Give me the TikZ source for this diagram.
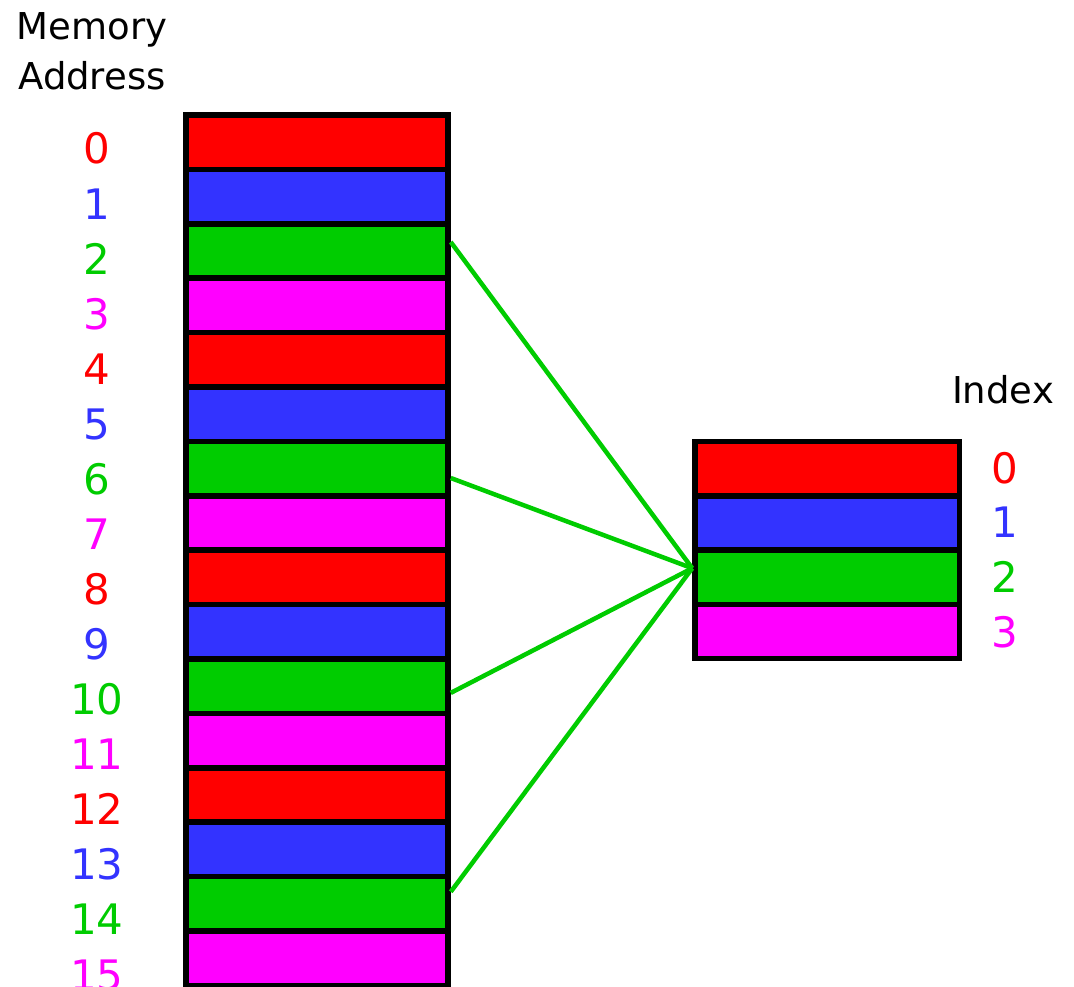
\documentclass[tikz,border=0pt]{standalone}
\usepackage{fontspec}
\setmainfont{DejaVu Sans}

\definecolor{col0}{HTML}{FF0000}
\definecolor{col1}{HTML}{3333FF}
\definecolor{col2}{HTML}{00CC00}
\definecolor{col3}{HTML}{FF00FF}

\begin{document}
\begin{tikzpicture}[x=1pt, y=-1pt, line width=5.5pt,
    cell/.style={draw=black, inner sep=0pt, outer sep=0pt, minimum width=262pt, minimum height=54.4pt},
    icell/.style={cell, minimum width=264.5pt, minimum height=54.3pt},
    num/.style={anchor=base, font=\fontsize{42}{42}\selectfont},
    link/.style={col2, line width=4.5pt}]
    \useasboundingbox (0, 0) rectangle (1074, 987);

    \node [anchor=base, align=center, font=\fontsize{37}{50}\selectfont] (mem) at (92, 90) {Memory\\Address};
    \node [anchor=base, font=\fontsize{37}{37}\selectfont] (idx) at (1003, 403) {Index};

    % memory cells
    \foreach \i in {0,...,15} {
        \pgfmathtruncatemacro\k{mod(\i,4)}
        \node [cell, fill=col\k] (m\i) at (317, {115+54.4*\i+27.2}) {};
        \node [num, text=col\k] (a\i) at (97, {164+55.07*\i}) {\i};
    }

    % index cells
    \foreach \i in {0,...,3} {
        \node [icell, fill=col\i] (x\i) at (827.25, {441.5+54.3*\i+27.15}) {};
        \node [num, text=col\i] (b\i) at (1005, {483+54.7*\i}) {\i};
    }

    \foreach \r/\s in {2/9, 6/-9.4, 10/-6.7, 14/12}
        \draw [link] ([xshift=2.75pt, yshift=\s pt]m\r.east) -- ([xshift=-2.75pt, yshift=9pt]x2.west);

\end{tikzpicture}
\end{document}
